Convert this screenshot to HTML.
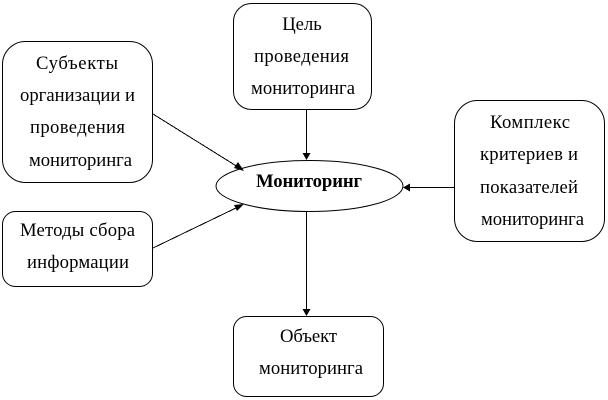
<!DOCTYPE html>
<html><head><meta charset="utf-8"><style>
html,body{margin:0;padding:0;background:#fff;width:608px;height:400px;overflow:hidden}
svg{display:block}
text{font-family:"Liberation Serif",serif;font-size:18.67px;fill:#000;text-anchor:middle}
.s{fill:#fff;stroke:#000;stroke-width:1}
.l{stroke:#000;stroke-width:1;fill:none;shape-rendering:crispEdges}
</style></head><body>
<svg width="608" height="400" viewBox="0 0 608 400" xmlns="http://www.w3.org/2000/svg">
<rect class="s" x="2.5" y="41.5" width="150" height="141" rx="23" ry="23"/>
<rect class="s" x="233.5" y="3.5" width="138" height="106" rx="18" ry="18"/>
<rect class="s" x="454.5" y="100.5" width="150" height="141" rx="23" ry="23"/>
<rect class="s" x="2.5" y="211.5" width="150" height="75" rx="13" ry="13"/>
<rect class="s" x="233.5" y="316.5" width="150" height="80" rx="13" ry="13"/>
<ellipse class="s" cx="309.5" cy="186" rx="93.5" ry="25.5"/>
<line class="l" x1="153" y1="114" x2="238" y2="167"/>
<polygon points="244,171 234,168 238,162"/>
<line class="l" x1="153" y1="248" x2="238" y2="207"/>
<polygon points="244,204 237,211 234,205"/>
<line class="l" x1="306.5" y1="109" x2="306.5" y2="155"/>
<polygon points="306.5,160 302.5,153 310.5,153"/>
<line class="l" x1="454" y1="187.5" x2="408" y2="187.5"/>
<polygon points="403,187.5 410,183.5 410,191.5"/>
<line class="l" x1="306.5" y1="212" x2="306.5" y2="311"/>
<polygon points="306.5,316 302.5,309 310.5,309"/>
<text x="77" y="69" textLength="82">Субъекты</text>
<text x="77.5" y="101" textLength="115">организации и</text>
<text x="77.5" y="133" textLength="95">проведения</text>
<text x="80.5" y="166" textLength="103">мониторинга</text>
<text x="302" y="30">Цель</text>
<text x="301.5" y="62" textLength="95">проведения</text>
<text x="303" y="94" textLength="104">мониторинга</text>
<text x="530" y="128" textLength="80">Комплекс</text>
<text x="529" y="160" textLength="98">критериев и</text>
<text x="529" y="193" textLength="98">показателей</text>
<text x="532.5" y="225" textLength="103">мониторинга</text>
<text x="77.5" y="236" textLength="115">Методы сбора</text>
<text x="78" y="268" textLength="102">информации</text>
<text x="308.5" y="342" textLength="57">Объект</text>
<text x="311" y="374" textLength="104">мониторинга</text>
<text x="309" y="187" style="font-weight:bold" textLength="106">Мониторинг</text>
</svg>
</body></html>
